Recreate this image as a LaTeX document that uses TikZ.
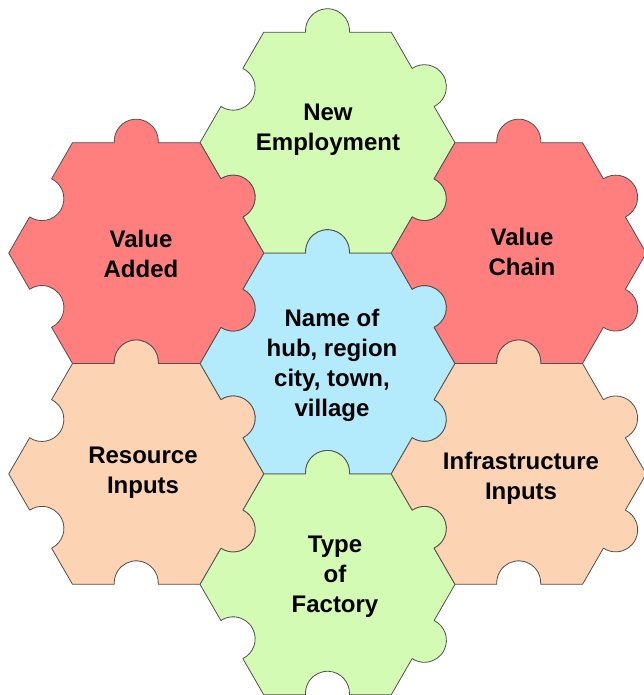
\documentclass[tikz,border=0pt]{standalone}
\usepackage{fontspec}
\setmainfont{Liberation Sans}
\definecolor{hubblue}{HTML}{B3EBFD}
\definecolor{jobgreen}{HTML}{D3FBB3}
\definecolor{valuered}{HTML}{FF7F7F}
\definecolor{inputpeach}{HTML}{FCD3B3}
\definecolor{edgegray}{HTML}{505050}
\begin{document}
\begin{tikzpicture}[x=1pt,y=1pt,
		piece/.style={draw=edgegray,line width=0.8pt,line join=round},
		piecetext/.style={font=\fontsize{24}{30}\selectfont\bfseries,align=center,text=black}]
		\def\R{127.5}\def\h{110.42}\def\r{22}\def\w{21.95}\def\a{3.9}
		\useasboundingbox (-327.5,-331.5) rectangle (316.5,363.5);
		\fill[color=white] (-327.5,-331.5) rectangle (316.5,363.5);
		% seven pieces: tabs on top and right edges, slots on bottom and left edges
		\foreach \cx/\cy/\col in {0/0/hubblue,0/220.84/jobgreen,0/-220.84/jobgreen,
				-191.25/110.42/valuered,191.25/110.42/valuered,
				-191.25/-110.42/inputpeach,191.25/-110.42/inputpeach}{
			\begin{scope}[shift={(\cx,\cy)}]
				\draw[piece,fill=\col] (120:\R)
					\foreach \th/\s in {90/1,30/1,-30/1,-90/-1,-150/-1,150/-1}{
						-- ([shift={(\th:\h)}]\th+90:\w)
						arc[start angle={\th+90+\s*\a},end angle={\th+90-\s*(180+\a)},radius=\r]
						-- (\th-30:\R)
					} -- cycle;
			\end{scope}
		}
		\node[piecetext] (hub) at (4.5,-1.5) {Name of\\hub, region\\city, town,\\village};
		\node[piecetext] (employ) at (0.5,233.5) {New\\Employment};
		\node[piecetext] (factory) at (7.5,-213) {Type\\of\\Factory};
		\node[piecetext] (added) at (-186.5,109.5) {Value\\Added};
		\node[piecetext] (chain) at (194.5,111.5) {Value\\Chain};
		\node[piecetext] (resource) at (-184.5,-109.5) {Resource\\Inputs};
		\node[piecetext] (infra) at (193.5,-114.5) {Infrastructure\\Inputs};
	\end{tikzpicture}
\end{document}
